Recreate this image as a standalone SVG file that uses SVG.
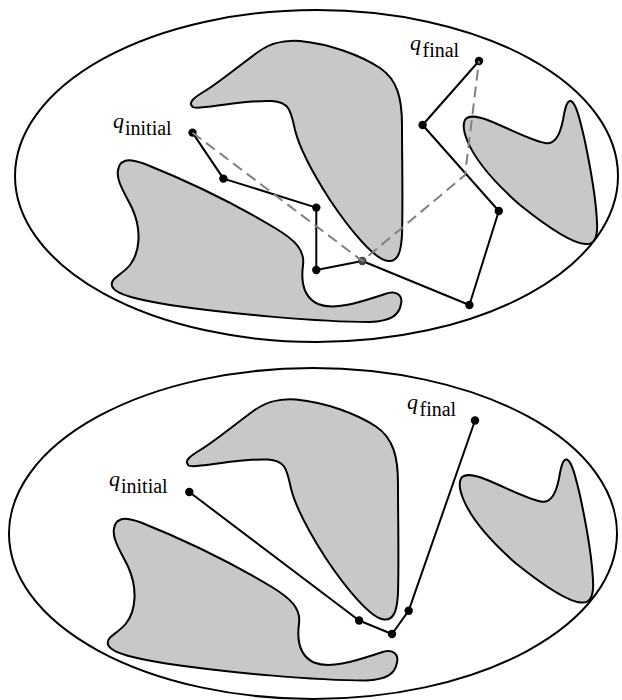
<svg xmlns="http://www.w3.org/2000/svg" width="622" height="700" viewBox="0 0 622 700">
<style>
.bound{fill:none;stroke:#000;stroke-width:2}
.obst{fill:#c8c8c8;stroke:#000;stroke-width:2;stroke-linejoin:round}
.path{fill:none;stroke:#000;stroke-width:2;stroke-linejoin:round}
.dash{fill:none;stroke:#808080;stroke-width:2;stroke-dasharray:11 6}
.dot{fill:#000}
</style>
<defs>
<g id="obstacles">
<path class="obst" d="M192,106 C188,102 195,97 205,91 C220,82 240,65 258,52 C272,42 285,40 300,41 C330,44 360,55 380,68 C398,80 402,100 402,125 C402,160 403,200 402,235 C401,252 398,262 388,261 C375,260 350,230 330,200 C312,172 300,150 295,130 C291,112 290,102 272,101 C250,100 225,105 205,107 C197,108 192,108 192,106 Z"/>
<path class="obst" d="M123,162 C126,159 134,160 145,164 C190,182 240,207 275,228 C295,240 305,250 303,265 C301,280 303,297 318,304 C335,311 360,302 385,294 C396,290 403,295 401,304 C399,316 390,321 370,322 C320,322 230,314 170,305 C140,300 115,295 112,286 C110,278 122,275 130,265 C140,252 142,230 132,208 C124,192 116,180 118,170 C119,165 120,163 123,162 Z"/>
<path class="obst" d="M465,120 C468,115 478,116 490,121 C510,129 530,140 545,143 C555,145 560,135 563,120 C565,108 567,100 571,101 C576,103 580,120 584,137 C590,165 596,200 597,222 C598,238 594,245 585,244 C570,243 545,225 520,205 C495,183 475,160 467,140 C463,130 463,124 465,120 Z"/>
</g>
</defs>
<g id="top-diagram">
<ellipse class="bound" cx="316.5" cy="176" rx="301.5" ry="166"/>
<use href="#obstacles"/>
<g id="top-connectors">
<polyline class="path" points="192.5,132.6 223.4,178.6 316.3,207.6 316.3,270 362.3,261 469.4,305 498.8,211 422.6,125 479,61"/>
</g>
<g id="top-nodes">
<circle id="t-qinit" class="dot" cx="192.5" cy="132.6" r="4.2"/>
<circle id="t-n2" class="dot" cx="223.4" cy="178.6" r="4.2"/>
<circle id="t-n3" class="dot" cx="316.3" cy="207.6" r="4.2"/>
<circle id="t-n4" class="dot" cx="316.3" cy="270" r="4.2"/>
<circle id="t-n5" cx="362.3" cy="261" r="4.2" fill="#444"/>
<circle id="t-n6" class="dot" cx="469.4" cy="305" r="4.2"/>
<circle id="t-n7" class="dot" cx="498.8" cy="211" r="4.2"/>
<circle id="t-n8" class="dot" cx="422.6" cy="125" r="4.2"/>
<circle id="t-qfinal" class="dot" cx="479" cy="61" r="4.2"/>
</g>
<polyline class="dash" points="192.5,132.6 362.3,261 465,175 479,61"/>
<g id="top-labels" font-family="Liberation Serif, DejaVu Serif, serif" fill="#000">
<text x="113" y="127.5" font-size="22" font-style="italic">q</text><text x="125" y="134.5" font-size="20">initial</text>
<text x="410" y="50" font-size="22" font-style="italic">q</text><text x="422.5" y="57" font-size="20">final</text>
</g>
</g>
<g id="bottom-diagram">
<ellipse class="bound" cx="313" cy="533.5" rx="304" ry="165.5"/>
<use href="#obstacles" transform="translate(-4,358.5)"/>
<g id="bottom-connectors">
<polyline class="path" points="189.3,492 359.1,620.5 392,634 408.7,610.7 475,420.5"/>
</g>
<g id="bottom-nodes">
<circle id="b-qinit" class="dot" cx="189.3" cy="492" r="4.2"/>
<circle id="b-n2" class="dot" cx="359.1" cy="620.5" r="4.2"/>
<circle id="b-n3" class="dot" cx="392" cy="634" r="4.2"/>
<circle id="b-n4" class="dot" cx="408.7" cy="610.7" r="4.2"/>
<circle id="b-qfinal" class="dot" cx="475" cy="420.5" r="4.2"/>
</g>
<g id="bottom-labels" font-family="Liberation Serif, DejaVu Serif, serif" fill="#000">
<text x="109" y="486" font-size="22" font-style="italic">q</text><text x="121" y="493" font-size="20">initial</text>
<text x="407" y="409" font-size="22" font-style="italic">q</text><text x="419.5" y="416" font-size="20">final</text>
</g>
</g>
</svg>
